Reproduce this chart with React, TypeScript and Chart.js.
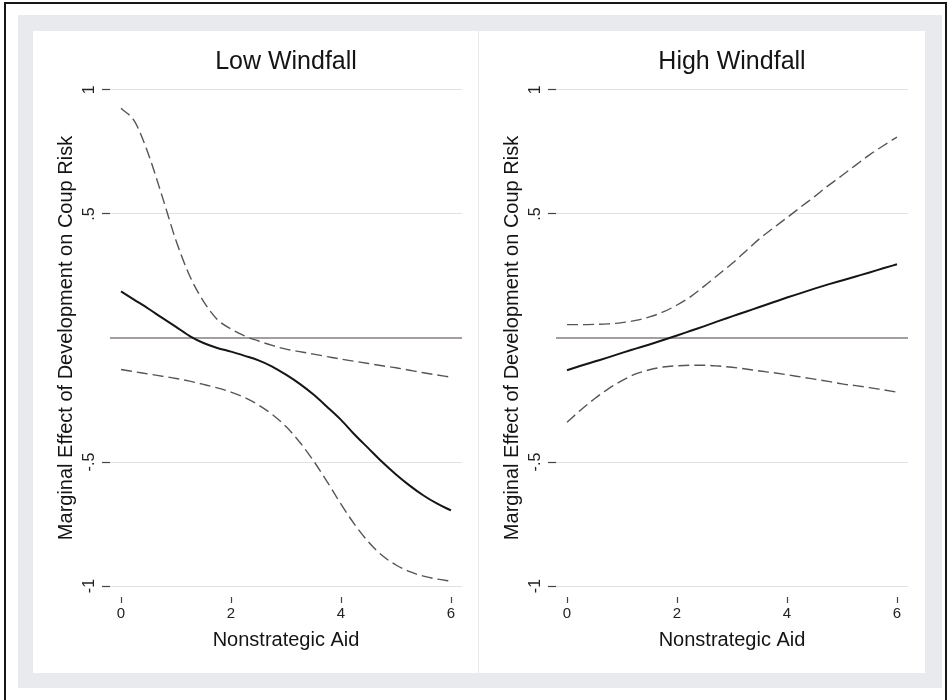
import React, { useEffect, useRef } from 'react';
import { Chart, registerables } from 'chart.js';

Chart.register(...registerables);

// ---- data ----
const aidValues = [
  0, 0.25, 0.5, 0.75, 1, 1.25, 1.5, 1.75, 2, 2.25, 2.5, 2.75, 3,
  3.25, 3.5, 3.75, 4, 4.25, 4.5, 4.75, 5, 5.25, 5.5, 5.75, 6,
];
const xTickValues = [0, 2, 4, 6];
const yTickValues = [-1, -0.5, 0.5, 1];
const yTickLabels = ['-1', '-.5', '.5', '1'];
const zeroLineX = [-0.2, 6.2];

const lowEstimate = [
  0.188, 0.153, 0.118, 0.081, 0.045, 0.008, -0.02, -0.04, -0.055, -0.072, -0.09, -0.115, -0.148,
  -0.185, -0.228, -0.278, -0.33, -0.39, -0.445, -0.5, -0.55, -0.595, -0.635, -0.668, -0.695,
];
const lowUpper = [
  0.926, 0.872, 0.74, 0.57, 0.393, 0.25, 0.148, 0.075, 0.036, 0.008, -0.012, -0.03, -0.045,
  -0.055, -0.065, -0.075, -0.085, -0.094, -0.103, -0.112, -0.12, -0.13, -0.14, -0.149, -0.158,
];
const lowLower = [
  -0.127, -0.136, -0.145, -0.154, -0.163, -0.174, -0.187, -0.201, -0.218, -0.24, -0.27, -0.308, -0.357,
  -0.42, -0.495, -0.58, -0.67, -0.752, -0.822, -0.877, -0.915, -0.942, -0.96, -0.972, -0.98,
];

const highEstimate = [
  -0.13, -0.112, -0.095, -0.078, -0.06, -0.043, -0.026, -0.008, 0.01, 0.029, 0.048, 0.068, 0.087,
  0.106, 0.125, 0.144, 0.163, 0.181, 0.199, 0.216, 0.232, 0.248, 0.264, 0.281, 0.297,
];
const highUpper = [
  0.054, 0.054, 0.055, 0.057, 0.062, 0.071, 0.085, 0.105, 0.133, 0.167, 0.21, 0.255, 0.3,
  0.35, 0.4, 0.443, 0.485, 0.528, 0.57, 0.614, 0.655, 0.697, 0.738, 0.775, 0.81,
];
const highLower = [
  -0.34, -0.29, -0.245, -0.205, -0.172, -0.145, -0.128, -0.117, -0.112, -0.11, -0.11, -0.113, -0.118,
  -0.125, -0.133, -0.14, -0.148, -0.157, -0.166, -0.175, -0.185, -0.192, -0.2, -0.209, -0.218,
];

const panelTitles = ['Low Windfall', 'High Windfall'];
const xAxisTitle = 'Nonstrategic Aid';
const yAxisTitle = 'Marginal Effect of Development on Coup Risk';

const FONT = "'Liberation Sans', Arial, Helvetica, sans-serif";

function toPoints(values: number[]) {
  return aidValues.map((x, i) => ({ x, y: values[i] }));
}

function makeConfig(title: string, est: number[], up: number[], lo: number[]): any {
  const dashed = {
    borderColor: '#555555',
    borderWidth: 1.4,
    borderDash: [11, 5],
    pointRadius: 0,
    cubicInterpolationMode: 'monotone',
    fill: false,
  };
  return {
    type: 'line',
    data: {
      datasets: [
        {
          data: toPoints(est),
          borderColor: '#151515',
          borderWidth: 2,
          pointRadius: 0,
          cubicInterpolationMode: 'monotone',
          fill: false,
        },
        { ...dashed, data: toPoints(up) },
        { ...dashed, data: toPoints(lo) },
        {
          data: zeroLineX.map((x) => ({ x, y: 0 })),
          borderColor: '#857f7f',
          borderWidth: 1.6,
          pointRadius: 0,
          fill: false,
        },
      ],
    },
    options: {
      animation: false,
      responsive: false,
      devicePixelRatio: 1,
      layout: { padding: { left: 0, right: 16, top: 0, bottom: 0 } },
      plugins: {
        legend: { display: false },
        tooltip: { enabled: false },
        title: {
          display: true,
          text: title,
          fullSize: false,
          color: '#141414',
          font: { family: FONT, size: 25, weight: 'normal' },
          padding: { top: 16.5, bottom: 1.5 },
        },
      },
      scales: {
        x: {
          type: 'linear',
          min: -0.2,
          max: 6.2,
          afterBuildTicks: (scale: any) => {
            scale.ticks = xTickValues.map((v) => ({ value: v }));
          },
          afterFit: (scale: any) => {
            scale.height = 76;
          },
          border: { display: false },
          grid: {
            drawOnChartArea: false,
            drawTicks: true,
            tickLength: 6,
            tickColor: '#444',
            tickWidth: 1.2,
          },
          ticks: {
            color: '#222',
            padding: 2,
            maxRotation: 0,
            font: { family: FONT, size: 15 },
            callback: (v: any) => String(v),
          },
          title: {
            display: true,
            text: xAxisTitle,
            color: '#141414',
            font: { family: FONT, size: 20 },
            padding: { top: 0, bottom: 21 },
          },
        },
        y: {
          type: 'linear',
          min: -1.044,
          max: 1.044,
          afterBuildTicks: (scale: any) => {
            scale.ticks = yTickValues.map((v) => ({ value: v }));
          },
          afterFit: (scale: any) => {
            scale.width = 77;
          },
          border: { display: false },
          grid: {
            color: '#e2e2e2',
            lineWidth: 1,
            drawTicks: true,
            tickLength: 8,
            tickColor: '#444',
            tickWidth: 1.2,
          },
          ticks: {
            color: '#222',
            padding: 3,
            minRotation: 90,
            crossAlign: 'center',
            font: { family: FONT, size: 16 },
            callback: (_v: any, i: number) => yTickLabels[i],
          },
          title: {
            display: true,
            text: yAxisTitle,
            color: '#141414',
            font: { family: FONT, size: 20 },
            padding: { top: 21, bottom: 0 },
          },
        },
      },
    },
  };
}

function Panel(props: { left: number; title: string; est: number[]; up: number[]; lo: number[] }) {
  const ref = useRef<HTMLCanvasElement | null>(null);
  useEffect(() => {
    if (!ref.current) return;
    const chart = new Chart(ref.current, makeConfig(props.title, props.est, props.up, props.lo));
    return () => chart.destroy();
  }, []);
  return (
    <canvas
      ref={ref}
      width={445}
      height={642}
      style={{ position: 'absolute', left: props.left, top: 31, width: 445, height: 642 }}
    />
  );
}

export default function App() {
  return (
    <div style={{ position: 'fixed', left: 0, top: 0, width: 949, height: 700, overflow: 'hidden', background: '#fff' }}>
      <div
        style={{
          position: 'absolute',
          left: 4,
          top: 2,
          width: 939,
          height: 740,
          border: '2px solid #161616',
        }}
      />
      <div style={{ position: 'absolute', left: 18, top: 15, width: 924, height: 673, background: '#e9eaed' }} />
      <div style={{ position: 'absolute', left: 33, top: 31, width: 445, height: 642, background: '#fff' }} />
      <div style={{ position: 'absolute', left: 479, top: 31, width: 446, height: 642, background: '#fff' }} />
      <Panel left={33} title={panelTitles[0]} est={lowEstimate} up={lowUpper} lo={lowLower} />
      <Panel left={479} title={panelTitles[1]} est={highEstimate} up={highUpper} lo={highLower} />
    </div>
  );
}
